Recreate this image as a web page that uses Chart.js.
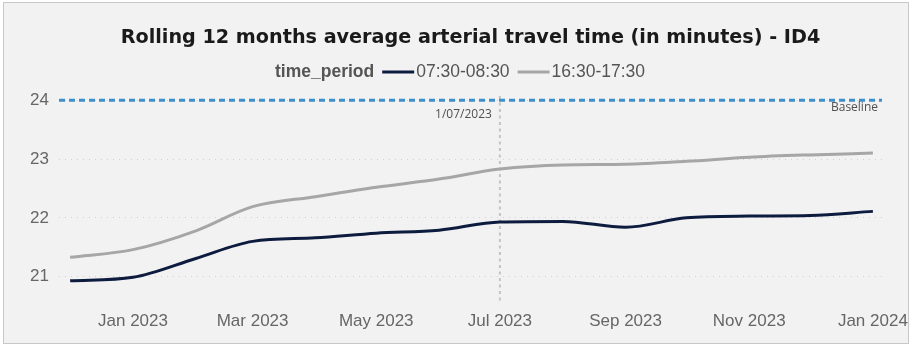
<!DOCTYPE html>
<html>
<head>
<meta charset="utf-8">
<script src="https://cdn.jsdelivr.net/npm/chart.js@4/dist/chart.umd.min.js"></script>
<style>
  html, body { margin: 0; padding: 0; background: #ffffff; }
  #wrap { position: absolute; left: 3px; top: 2px; width: 906px; height: 342px; background: #f2f2f2; border: 1px solid #c8c8c8; box-sizing: border-box; }
  #c { position: absolute; left: 0; top: 0; }
</style>
</head>
<body>
<div id="wrap"><canvas id="c" width="906" height="340"></canvas></div>
<script>
// ---- data ----
const months = ['2022-12-01','2023-01-01','2023-02-01','2023-03-01','2023-04-01','2023-05-01','2023-06-01','2023-07-01','2023-08-01','2023-09-01','2023-10-01','2023-11-01','2023-12-01','2024-01-01'];
const amPeak = [20.93, 20.99, 21.31, 21.60, 21.66, 21.74, 21.79, 21.93, 21.94, 21.84, 22.00, 22.03, 22.04, 22.11];
const pmPeak = [21.33, 21.46, 21.78, 22.19, 22.36, 22.52, 22.66, 22.83, 22.90, 22.91, 22.96, 23.03, 23.07, 23.10];
const seriesNames = ['07:30-08:30', '16:30-17:30'];
const tickDates = ['2023-01-01','2023-03-01','2023-05-01','2023-07-01','2023-09-01','2023-11-01','2024-01-01'];
const tickLabels = ['Jan 2023','Mar 2023','May 2023','Jul 2023','Sep 2023','Nov 2023','Jan 2024'];
const yTicks = [21, 22, 23, 24];
const baselineValue = 24;
const baselineLabel = 'Baseline';
const markerDate = '2023-07-01';
const markerLabel = '1/07/2023';
const titleText = 'Rolling 12 months average arterial travel time (in minutes) - ID4';
const legendTitle = 'time_period';

const DAY = 86400000;
const toDay = s => Date.parse(s + 'T00:00:00Z') / DAY;
const xs = months.map(toDay);
const xMin = xs[0] - 5.5;
const xMax = xs[xs.length - 1] + 4.5;

const NAVY = '#0d1b3e';
const GRAY = '#a6a6a6';
const BLUE = '#3f8fcb';
const LFONT = '17.5px "Liberation Sans", Arial, sans-serif';

const inlineLegend = {
  id: 'inlineLegend',
  afterDraw(chart) {
    const ctx = chart.ctx;
    ctx.save();
    ctx.textBaseline = 'middle';
    const y = 69;
    const items = [
      { t: legendTitle, bold: true },
      { line: NAVY }, { t: seriesNames[0] },
      { line: GRAY }, { t: seriesNames[1] }
    ];
    const widths = items.map(it => {
      if (it.line) return 32 + 2;
      ctx.font = (it.bold ? 'bold ' : '') + LFONT;
      return ctx.measureText(it.t).width + 8;
    });
    const total = widths.reduce((a, b) => a + b, 0) - 8;
    let x = 456 - total / 2;
    items.forEach((it, i) => {
      if (it.line) {
        ctx.strokeStyle = it.line; ctx.lineWidth = 3;
        ctx.beginPath(); ctx.moveTo(x, y); ctx.lineTo(x + 32, y); ctx.stroke();
      } else {
        ctx.font = (it.bold ? 'bold ' : '') + LFONT;
        ctx.fillStyle = '#555555';
        ctx.textAlign = 'left';
        ctx.fillText(it.t, x, y);
      }
      x += widths[i];
    });
    ctx.restore();
  }
};

const annotations = {
  id: 'annotations',
  beforeDatasetsDraw(chart) {
    const { ctx, chartArea } = chart;
    const mx = chart.scales.x.getPixelForValue(toDay(markerDate));
    ctx.save();
    ctx.strokeStyle = '#c4c4c4';
    ctx.lineWidth = 2;
    ctx.setLineDash([3, 3.5]);
    ctx.beginPath(); ctx.moveTo(mx, chartArea.top); ctx.lineTo(mx, chartArea.bottom + 2); ctx.stroke();
    ctx.restore();
  },
  afterDatasetsDraw(chart) {
    const { ctx, chartArea } = chart;
    const mx = chart.scales.x.getPixelForValue(toDay(markerDate));
    const by = chart.scales.y.getPixelForValue(baselineValue);
    ctx.save();
    ctx.font = '12px "Open Sans", "Noto Sans", sans-serif';
    ctx.fillStyle = '#505050';
    ctx.textBaseline = 'middle';
    ctx.textAlign = 'right';
    ctx.fillText(markerLabel, mx - 8, by + 14);
    ctx.fillText(baselineLabel, chartArea.right - 4, by + 7);
    ctx.restore();
  }
};

new Chart(document.getElementById('c'), {
  type: 'line',
  data: {
    datasets: [
      {
        label: seriesNames[0],
        data: xs.map((x, i) => ({ x, y: amPeak[i] })),
        borderColor: NAVY, borderWidth: 3, pointRadius: 0, cubicInterpolationMode: 'monotone'
      },
      {
        label: seriesNames[1],
        data: xs.map((x, i) => ({ x, y: pmPeak[i] })),
        borderColor: GRAY, borderWidth: 3, pointRadius: 0, cubicInterpolationMode: 'monotone'
      },
      {
        label: baselineLabel,
        data: [{ x: xMin, y: baselineValue }, { x: xMax, y: baselineValue }],
        borderColor: BLUE, borderWidth: 3, borderDash: [6, 4], pointRadius: 0
      }
    ]
  },
  options: {
    responsive: false,
    animation: false,
    events: [],
    layout: { padding: { left: 0, right: 28, top: 0, bottom: 0 } },
    plugins: {
      legend: { display: false },
      tooltip: { enabled: false },
      title: {
        display: true,
        fullSize: false,
        text: titleText,
        color: '#1a1a1a',
        font: { family: '"DejaVu Sans", Verdana, sans-serif', size: 19.2, weight: 'bold' },
        padding: { top: 23, bottom: 47 }
      }
    },
    scales: {
      x: {
        type: 'linear',
        min: xMin, max: xMax,
        afterBuildTicks: s => { s.ticks = tickDates.map(d => ({ value: toDay(d) })); },
        ticks: {
          callback: (v) => { const i = tickDates.map(toDay).indexOf(v); return i >= 0 ? tickLabels[i] : ''; },
          color: '#666666', font: { family: '"Liberation Sans", Arial, sans-serif', size: 17 },
          maxRotation: 0, autoSkip: false, padding: 1
        },
        grid: { display: false },
        border: { display: false },
        afterFit: s => { s.height = 41; s.paddingLeft = 0; s.paddingRight = 0; }
      },
      y: {
        min: 20.57, max: 24.07,
        afterBuildTicks: s => { s.ticks = yTicks.map(v => ({ value: v })); },
        ticks: { color: '#666666', font: { family: '"Liberation Sans", Arial, sans-serif', size: 17 }, padding: 10 },
        grid: { color: '#cfcfcf', lineWidth: 1, tickLength: 0, drawTicks: false },
        border: { display: false, dash: [1, 5] },
        afterFit: s => { s.width = 55; }
      }
    }
  },
  plugins: [inlineLegend, annotations]
});
</script>
</body>
</html>
